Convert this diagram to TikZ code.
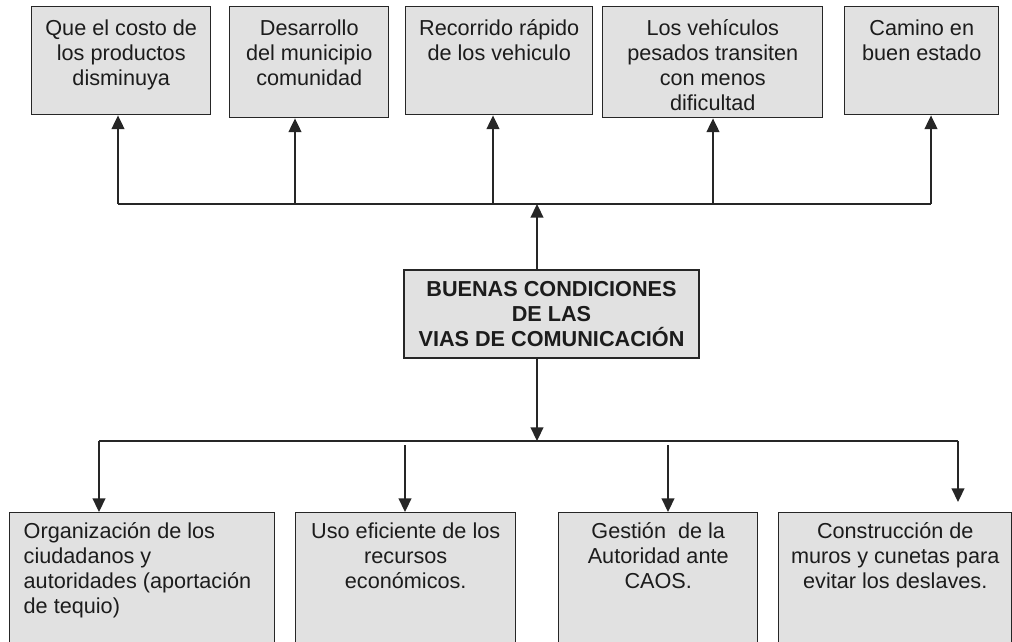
\documentclass[tikz,border=0pt]{standalone}
\usepackage{fontspec}
\setmainfont{Liberation Sans}
\usetikzlibrary{arrows.meta}

\definecolor{cajagris}{HTML}{E1E1E1}
\definecolor{linea}{HTML}{262626}
\definecolor{letra}{HTML}{1C1C1C}

% texto pegado arriba dentro de la caja
\newcommand{\arriba}[4]{\parbox[c][#2][t]{#1}{\vspace{#3}#4}}

\tikzset{
  caja/.style={draw=linea, fill=cajagris, line width=1pt, anchor=north west,
    inner xsep=0.1cm, inner ysep=0pt, text=letra,
    font=\fontsize{15.4}{17.8}\selectfont},
  centro/.style={draw=linea, fill=cajagris, line width=1pt, align=center,
    minimum width=7.375cm, minimum height=2.2cm, text=letra,
    font=\fontsize{15.4}{17.8}\selectfont\bfseries},
  flecha/.style={draw=linea, line width=1pt, -{Triangle[length=0.34cm,width=0.32cm]}},
  linea/.style={draw=linea, line width=1pt},
}

\begin{document}
\begin{tikzpicture}[x=0.025cm, y=-0.025cm]

  \useasboundingbox (0,0) rectangle (1012,642);
  \clip (0,0) rectangle (1012,642);

  % efectos
  \node[caja] (E1) at (31,6) {\arriba{4.275cm}{2.7cm}{0.32cm}{\centering Que el costo de\\ los productos\\ disminuya}};
  \node[caja] (E2) at (229,6) {\arriba{3.775cm}{2.775cm}{0.32cm}{\centering Desarrollo\hspace*{0.7cm}\\ del municipio\\ comunidad}};
  \node[caja] (E3) at (405,6) {\arriba{4.475cm}{2.7cm}{0.32cm}{\centering Recorrido rápido\\ de los vehiculo}};
  \node[caja] (E4) at (602,6) {\arriba{5.3cm}{2.775cm}{0.32cm}{\centering Los vehículos\\ pesados transiten\\ con menos\\ dificultad}};
  \node[caja] (E5) at (844,6) {\arriba{3.65cm}{2.7cm}{0.32cm}{\centering Camino en\\ buen estado}};

  % problema central
  \node[centro] (C) at (551.5,314) {BUENAS CONDICIONES\\ DE LAS\\ VIAS DE COMUNICACIÓN};

  % medios
  \node[caja] (S1) at (9,512) {\arriba{6.425cm}{3.7cm}{0.25cm}{\raggedright\leftskip=0.25cm Organización de los\\ ciudadanos y\\ autoridades (aportación\\ de tequio)}};
  \node[caja] (S2) at (295,512) {\arriba{5.3cm}{3.7cm}{0.25cm}{\centering Uso eficiente de los\\ recursos\\ económicos.}};
  \node[caja] (S3) at (558,512) {\arriba{4.775cm}{3.7cm}{0.25cm}{\centering Gestión\ \ de la\\ Autoridad ante\\ CAOS.}};
  \node[caja] (S4) at (778,512) {\arriba{5.625cm}{3.7cm}{0.25cm}{\centering Construcción de\\ muros y cunetas para\\ evitar los deslaves.}};

  \coordinate (b1) at (118,204);
  \coordinate (b2) at (295,204);
  \coordinate (b3) at (493,204);
  \coordinate (b4) at (713,204);
  \coordinate (b5) at (931,204);
  \coordinate (ca) at (537,204);
  \coordinate (cb) at (537,441);
  \coordinate (d1) at (99,441);
  \coordinate (d2) at (405,445);
  \coordinate (d3) at (668,445);
  \coordinate (d4) at (958,441);
  \coordinate (d4e) at (958,502);

  \draw[linea] (b1) -- (b5);
  \draw[flecha] (b1) -- (b1 |- E1.south);
  \draw[flecha] (b2) -- (b2 |- E2.south);
  \draw[flecha] (b3) -- (b3 |- E3.south);
  \draw[flecha] (b4) -- (b4 |- E4.south);
  \draw[flecha] (b5) -- (b5 |- E5.south);

  \draw[flecha] (ca |- C.north) -- (ca);
  \draw[flecha] (cb |- C.south) -- (cb);

  \draw[linea] (d1) -- (d4);
  \draw[flecha] (d1) -- (d1 |- S1.north);
  \draw[flecha] (d2) -- (d2 |- S2.north);
  \draw[flecha] (d3) -- (d3 |- S3.north);
  \draw[flecha] (d4) -- (d4e);

\end{tikzpicture}
\end{document}
